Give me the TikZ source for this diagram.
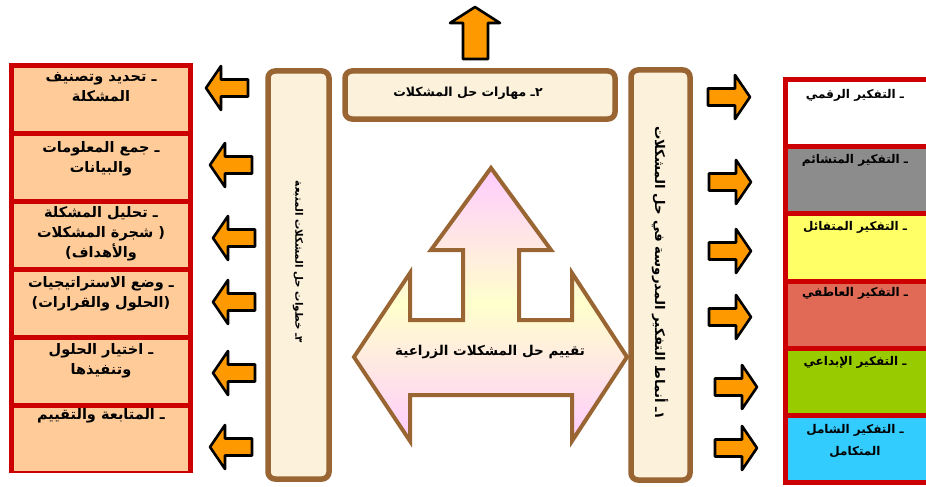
\documentclass[tikz,border=0pt]{standalone}
\usepackage{fontspec}
\TeXXeTstate=1
\newfontfamily\arabicfont[Script=Arabic]{DejaVu Sans}

\definecolor{framered}{HTML}{CC0000}
\definecolor{peach}{HTML}{FFCC99}
\definecolor{barkbrown}{HTML}{996633}
\definecolor{parchment}{HTML}{FCF2DC}
\definecolor{orangefill}{HTML}{FF9900}
\definecolor{cellgray}{HTML}{8C8C8C}
\definecolor{cellyellow}{HTML}{FFFF66}
\definecolor{cellsalmon}{HTML}{E06A55}
\definecolor{cellgreen}{HTML}{99CC00}
\definecolor{cellcyan}{HTML}{33CCFF}
\definecolor{softpink}{HTML}{FFCCFF}
\definecolor{softyellow}{HTML}{FFFFCC}

\newcommand{\rl}[1]{\beginR\strut #1\endR}

\tikzset{
  arrowline/.style={draw=black, line width=2.6pt, fill=orangefill, line join=round},
  blockarrow/.pic={
    \draw[arrowline] (0,-8.5) -- (27,-8.5) -- (27,-22) -- (42,0) -- (27,22) -- (27,8.5) -- (0,8.5) -- cycle;
  },
  brownbox/.style={draw=barkbrown, line width=5.5pt, fill=parchment, rounded corners=7pt},
  steptext/.style={anchor=north, inner sep=0pt, align=center,
    font=\arabicfont\bfseries\fontsize{14.5}{20}\selectfont},
  styletext/.style={anchor=north, inner sep=0pt, align=center,
    font=\arabicfont\bfseries\fontsize{12}{22}\selectfont},
  boxtext/.style={inner sep=0pt, font=\arabicfont\bfseries\fontsize{12.5}{14}\selectfont},
}

\begin{document}
\begin{tikzpicture}[x=1pt, y=-1pt]
\clip (0,0) rectangle (926,487);
\fill[white] (0,0) rectangle (926,487);

% ---------- left column: steps ----------
\fill[framered] (9,63) rectangle (193,473);
\foreach \i in {0,...,5} {
  \fill[peach] (14,{68+\i*68}) rectangle (188,{68+\i*68+63});
}
\node[steptext] (s1) at (101,67)  {\rl{ـ تحديد وتصنيف}\\\rl{المشكلة}};
\node[steptext] (s2) at (101,138) {\rl{ـ جمع المعلومات}\\\rl{والبيانات}};
\node[steptext] (s3) at (101,203) {\rl{ـ تحليل المشكلة}\\\rl{( شجرة المشكلات}\\\rl{والأهداف)}};
\node[steptext] (s4) at (101,273) {\rl{ـ وضع الاستراتيجيات}\\\rl{(الحلول والقرارات)}};
\node[steptext] (s5) at (101,340) {\rl{ـ اختيار الحلول}\\\rl{وتنفيذها}};
\node[steptext] (s6) at (101,405) {\rl{ـ المتابعة  والتقييم}};

% ---------- right column: thinking styles ----------
\fill[framered] (783,77) rectangle (935,485);
\fill[white]      (788,82)    rectangle (935,144.2);
\fill[cellgray]   (788,149.2) rectangle (935,211.4);
\fill[cellyellow] (788,216.4) rectangle (935,278.6);
\fill[cellsalmon] (788,283.6) rectangle (935,345.8);
\fill[cellgreen]  (788,350.8) rectangle (935,413);
\fill[cellcyan]   (788,418)   rectangle (935,480.2);
\node[styletext] (t1) at (855,83)  {\rl{ـ التفكير الرقمي}};
\node[styletext] (t2) at (855,148) {\rl{ـ التفكير المتشائم}};
\node[styletext] (t3) at (855,215) {\rl{ـ التفكير المتفائل}};
\node[styletext] (t4) at (855,281) {\rl{ـ التفكير العاطفي}};
\node[styletext] (t5) at (855,350) {\rl{ـ التفكير الإبداعي}};
\node[styletext] (t6) at (855,418) {\rl{ـ التفكير الشامل}\\\rl{المتكامل}};

% ---------- brown frames ----------
\draw[brownbox] (268,71) rectangle (329,479);
\draw[brownbox] (345,71) rectangle (615,119);
\draw[brownbox] (631,70) rectangle (690,480);
\node[boxtext, font=\arabicfont\bfseries\fontsize{10.3}{12}\selectfont, rotate=-90] (b3) at (298,262) {\beginR ٣ـ خطوات حل المشكلات المتبعة\endR};
\node[boxtext] (b2) at (468,93) {\beginR ٢ـ مهارات حل المشكلات\endR};
\node[boxtext, font=\arabicfont\bfseries\fontsize{13.3}{15}\selectfont, rotate=-90] (b1) at (660,273) {\beginR ١ـ أنماط التفكير المدروسة في حل المشكلات\endR};

% ---------- central three-way arrow ----------
\path[top color=softpink, bottom color=softpink, middle color=softyellow]
  (491,168) -- (551,250) -- (519,250) -- (519,320) -- (572,320) -- (572,273)
  -- (627,357) -- (572,441) -- (572,395) -- (410,395) -- (410,441) -- (354,357)
  -- (410,273) -- (410,320) -- (463,320) -- (463,250) -- (431,250) -- cycle;
\draw[barkbrown, line width=4pt, line join=miter]
  (491,168) -- (551,250) -- (519,250) -- (519,320) -- (572,320) -- (572,273)
  -- (627,357) -- (572,441) -- (572,395) -- (410,395) -- (410,441) -- (354,357)
  -- (410,273) -- (410,320) -- (463,320) -- (463,250) -- (431,250) -- cycle;
\node[boxtext, font=\arabicfont\bfseries\fontsize{13.5}{15}\selectfont] (eval) at (490,352) {\beginR تقييم  حل المشكلات الزراعية\endR};

% ---------- orange block arrows ----------
\draw[arrowline] (463,59) -- (463,23) -- (450,23) -- (475,7) -- (500,23) -- (488,23) -- (488,59) -- cycle;

\pic[rotate=180] at (248,88)  {blockarrow};
\pic[rotate=180] at (252,165) {blockarrow};
\pic[rotate=180] at (255,238) {blockarrow};
\pic[rotate=180] at (255,302) {blockarrow};
\pic[rotate=180] at (255,373) {blockarrow};
\pic[rotate=180] at (252,447) {blockarrow};

\pic at (708,97)  {blockarrow};
\pic at (709,182) {blockarrow};
\pic at (709,251) {blockarrow};
\pic at (709,317) {blockarrow};
\pic at (715,387) {blockarrow};
\pic at (715,448) {blockarrow};
\end{tikzpicture}
\end{document}
